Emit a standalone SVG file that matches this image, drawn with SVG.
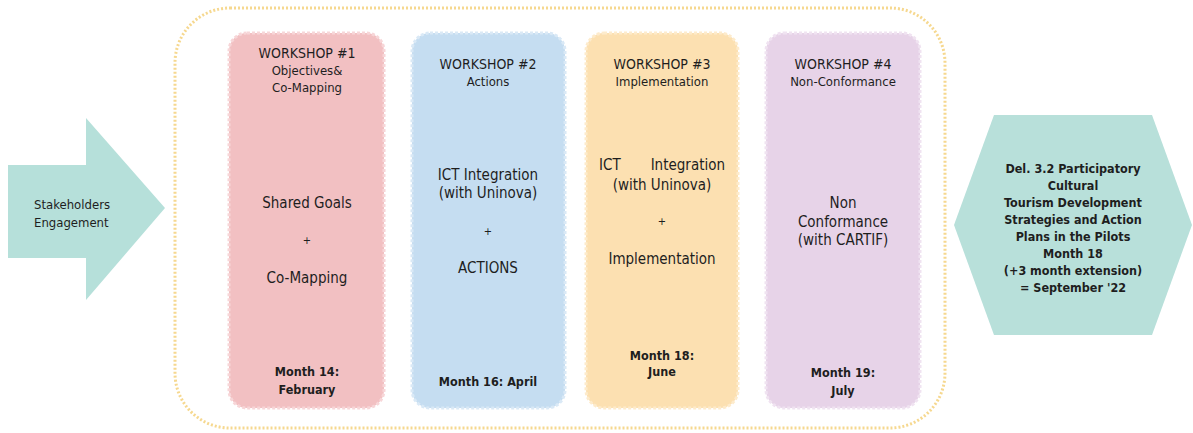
<svg xmlns="http://www.w3.org/2000/svg" width="1193" height="433" viewBox="0 0 1193 433">
  <style>
    text { font-family: "DejaVu Sans Condensed", "DejaVu Sans", sans-serif; fill: #1e1e1e; text-anchor: middle; }
    .head { font-size: 14px; }
    .sub { font-size: 13px; }
    .plus { font-size: 11px; }
    .mid { font-size: 15px; }
    .month { font-size: 12.5px; font-weight: bold; }
    .small { font-size: 13px; }
    .del { font-size: 12.5px; font-weight: bold; }
    .frame { fill: none; stroke: #F6D88F; stroke-width: 3; stroke-dasharray: 2 2; }
    .ws { stroke-width: 3; stroke-dasharray: 3 2; }
  </style>

  <!-- outer frame around the workshops -->
  <rect class="frame" x="175" y="8" width="770" height="420" rx="55" ry="55"/>

  <!-- entry arrow -->
  <g id="stakeholders">
    <polygon points="8,165 86,165 86,118 165,208 86,300 86,258 8,258" fill="#B6E0DA"/>
    <text class="small" x="34" y="209" style="text-anchor:start">Stakeholders</text>
    <text class="small" x="34" y="227" style="text-anchor:start">Engagement</text>
  </g>

  <!-- workshop 1 -->
  <g id="workshop1">
    <rect class="ws" x="229" y="33" width="155" height="375" rx="18" fill="#F2C0C2" stroke="#F7D6D8"/>
    <text class="head" x="307" y="58">WORKSHOP #1</text>
    <text class="sub" x="307" y="75">Objectives&amp;</text>
    <text class="sub" x="307" y="92">Co-Mapping</text>
    <text class="mid" x="307" y="208">Shared Goals</text>
    <text class="plus" x="307" y="244">+</text>
    <text class="mid" x="307" y="283">Co-Mapping</text>
    <text class="month" x="307" y="376">Month 14:</text>
    <text class="month" x="307" y="394">February</text>
  </g>

  <!-- workshop 2 -->
  <g id="workshop2">
    <rect class="ws" x="412" y="33" width="153" height="375" rx="18" fill="#C5DDF1" stroke="#DAE9F6"/>
    <text class="head" x="488" y="69">WORKSHOP #2</text>
    <text class="sub" x="488" y="86">Actions</text>
    <text class="mid" x="488" y="180">ICT Integration</text>
    <text class="mid" x="488" y="198">(with Uninova)</text>
    <text class="plus" x="488" y="235">+</text>
    <text class="mid" x="488" y="273">ACTIONS</text>
    <text class="month" x="488" y="386">Month 16: April</text>
  </g>

  <!-- workshop 3 -->
  <g id="workshop3">
    <rect class="ws" x="586" y="33" width="152" height="375" rx="18" fill="#FCE0B1" stroke="#FDEBCC"/>
    <text class="head" x="662" y="69">WORKSHOP #3</text>
    <text class="sub" x="662" y="86">Implementation</text>
    <text class="mid" x="599" y="170" style="text-anchor:start">ICT</text>
    <text class="mid" x="725" y="170" style="text-anchor:end">Integration</text>
    <text class="mid" x="662" y="190">(with Uninova)</text>
    <text class="plus" x="662" y="225">+</text>
    <text class="mid" x="662" y="264">Implementation</text>
    <text class="month" x="662" y="360">Month 18:</text>
    <text class="month" x="662" y="376">June</text>
  </g>

  <!-- workshop 4 -->
  <g id="workshop4">
    <rect class="ws" x="766" y="33" width="154" height="375" rx="18" fill="#E7D3E8" stroke="#F0E3F1"/>
    <text class="head" x="843" y="69">WORKSHOP #4</text>
    <text class="sub" x="843" y="86">Non-Conformance</text>
    <text class="mid" x="843" y="208">Non</text>
    <text class="mid" x="843" y="227">Conformance</text>
    <text class="mid" x="843" y="245">(with CARTIF)</text>
    <text class="month" x="843" y="377">Month 19:</text>
    <text class="month" x="843" y="395">July</text>
  </g>

  <!-- deliverable -->
  <g id="deliverable">
    <polygon points="994,115 1152,115 1192,225 1152,335 994,335 954,225" fill="#B8E0DA"/>
    <text class="del" x="1073" y="173">Del. 3.2 Participatory</text>
    <text class="del" x="1073" y="190">Cultural</text>
    <text class="del" x="1073" y="207">Tourism Development</text>
    <text class="del" x="1073" y="224">Strategies and Action</text>
    <text class="del" x="1073" y="241">Plans in the Pilots</text>
    <text class="del" x="1073" y="258">Month 18</text>
    <text class="del" x="1073" y="275">(+3 month extension)</text>
    <text class="del" x="1073" y="292">= September '22</text>
  </g>
</svg>
